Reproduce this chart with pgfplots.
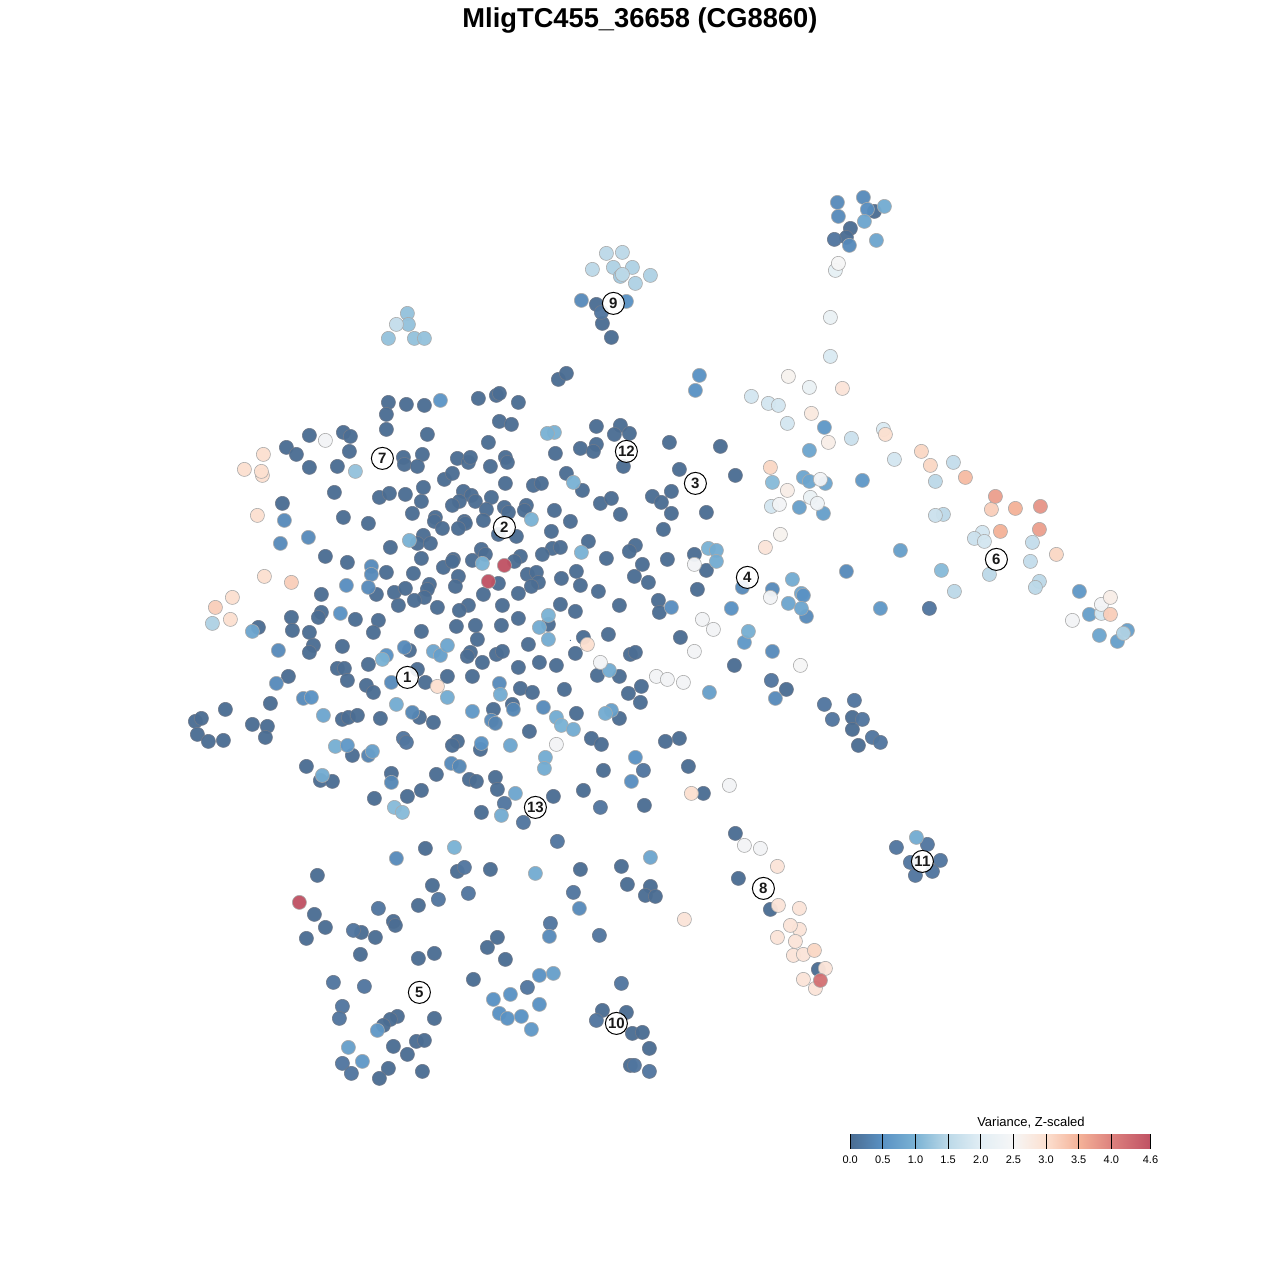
\documentclass[border=0pt]{standalone}
\usepackage{fontspec}
\setmainfont{Liberation Sans}
\usepackage{pgfplots}
\pgfplotsset{compat=1.18}
\definecolor{dA}{RGB}{75,109,147}
\definecolor{dB}{RGB}{81,118,159}
\definecolor{edgeD}{RGB}{112,122,138}
\definecolor{edgeL}{RGB}{170,170,170}
\pgfplotsset{
 colormap={rb}{rgb255(0cm)=(74,108,146); rgb255(5cm)=(90,146,196); rgb255(10cm)=(122,178,212); rgb255(15cm)=(188,217,232); rgb255(20cm)=(226,238,245); rgb255(25cm)=(246,246,246); rgb255(30cm)=(252,224,208); rgb255(35cm)=(244,178,152); rgb255(40cm)=(221,130,126); rgb255(46cm)=(192,82,100)},
 dot/.style={only marks, mark=*, mark size=7.05bp, mark options={draw=edgeD, line width=0.6bp, fill opacity=0.96, fill=#1}},
 dot/.default=dA,
}
\begin{document}
\begin{tikzpicture}
\begin{axis}[name=main, at={(0,0)}, anchor=south west, scale only axis, width=1280bp, height=1280bp,
  xmin=-0.4, xmax=1279.6, ymin=-0.4, ymax=1279.6, y dir=reverse, clip=false,
  xtick=\empty, ytick=\empty, axis line style={draw=none},
  point meta min=0, point meta max=4.6,
  title={\fontsize{27.3bp}{30bp}\selectfont\bfseries MligTC455\_36658 (CG8860)},
  title style={at={(axis description cs:0.5,0.9859)}, anchor=center, inner sep=0pt, yshift=-8.3bp},
]
\addplot[dot=dA] coordinates {
(388,402)(406,404)(424,405)(386,414)(386,429)(427,434)(309,435)(343,432)(350,436)(286,447)(296,454)(349,451)(403,457)(404,464)(422,454)(417,466)(309,467)(337,466)(444,479)(334,492)(379,497)(389,493)(405,494)(423,487)(421,501)(282,503)(412,513)(435,517)(434,521)(442,528)(343,517)(368,523)(390,547)(423,535)(417,543)(430,543)(421,558)(413,573)(443,567)(325,556)(347,562)(386,572)(376,594)(394,592)(405,588)(429,584)(427,589)(424,597)(414,600)(398,605)(437,607)(321,594)
(291,617)(321,612)(318,617)(355,619)(378,620)(292,630)(309,632)(258,627)(373,632)(421,631)(313,645)(309,652)(342,646)(368,664)(409,650)(337,668)(344,668)(288,676)(347,680)(366,685)(373,692)(417,669)(425,682)(447,676)(270,703)(419,717)(433,722)(380,718)(342,719)(348,717)(357,715)(225,709)(195,721)(201,718)(252,724)(267,726)(197,734)(208,741)(223,740)(265,737)(352,755)(436,774)(306,766)(320,780)(332,781)(391,773)(421,790)(407,796)(374,798)(425,848)
(558,379)(566,373)(478,398)(496,395)(499,393)(518,402)(499,421)(511,424)(596,426)(620,425)(629,433)(614,434)(488,442)(669,442)(720,446)(555,453)(580,448)(596,444)(593,451)(457,458)(468,462)(470,457)(505,457)(507,462)(490,466)(623,466)(679,469)(452,473)(566,473)(582,490)(533,485)(541,483)(505,483)(463,491)(471,495)(475,501)(459,501)(452,505)(491,497)(504,507)(508,512)(486,509)(526,505)(524,510)(483,520)(464,521)(465,523)(458,528)(554,510)(570,521)(600,503)(611,498)(620,514)(652,496)(661,502)(671,491)(671,513)(706,512)(663,529)(551,531)(498,534)(516,536)(588,541)(635,545)(629,551)(552,548)(560,547)(542,554)(606,558)(667,559)(694,554)(706,570)(642,564)(634,576)(648,582)(697,589)(481,549)(485,554)(472,560)(453,559)(452,561)(498,583)(520,556)(514,561)(527,574)(536,572)(538,582)(531,586)(576,571)(561,578)(580,585)(598,591)(458,576)(455,586)(483,594)(518,593)(468,605)(459,610)(502,605)(560,604)(575,611)(619,605)(658,600)(659,612)(518,618)
(456,626)(475,625)(501,625)(548,624)(477,639)(528,644)(583,637)(608,634)(680,637)(470,652)(467,656)(482,662)(496,654)(502,651)(575,653)(630,654)(635,652)(539,662)(556,665)(518,667)(597,675)(619,676)(472,676)(520,688)(532,692)(564,689)(628,693)(641,686)(640,702)(512,704)(493,709)(576,713)(619,718)(529,731)(591,738)(601,744)(665,741)(679,738)(457,741)(452,745)(480,749)(603,770)(688,766)(469,779)(476,781)(495,777)(497,789)(481,812)(553,796)(583,790)(644,805)(703,793)(735,475)
(734,665)(786,689)(852,717)(852,729)(858,745)(874,211)(850,228)(846,237)(596,304)(602,323)(611,337)(317,875)(314,914)(325,927)(306,938)(361,932)(375,937)(393,921)(395,925)(360,954)(418,905)(432,885)(457,871)(490,869)(580,869)(497,937)(487,947)(505,959)(434,953)(418,958)(473,979)(397,1016)(390,1019)(383,1025)(434,1018)(416,1041)(424,1040)(393,1046)(407,1054)(388,1068)(379,1078)(422,1071)(621,866)(627,884)(650,886)(645,895)(655,896)(735,833)(738,878)(770,909)(818,969)(602,1010)(626,1012)(632,1033)(642,1032)(649,1048)(630,1065)
};
\addplot[dot=dB] coordinates {
(601,312)(523,822)(504,803)(600,807)(643,770)(599,935)(621,983)(596,1020)(634,1065)(649,1071)(333,982)(364,986)(342,1006)(339,1018)(342,1063)(351,1073)(527,987)(378,908)(464,867)(438,899)(468,893)(557,841)(573,892)(550,923)(353,930)(771,680)(824,704)(854,700)(832,719)(862,719)(872,737)(880,742)(896,847)(910,862)(927,844)(940,860)(932,871)(915,875)(403,738)(406,742)(929,608)(834,239)
};
\addplot[dot=white, scatter, point meta=explicit, scatter/use mapped color={draw=edgeL, fill=mapped color}] coordinates {
(440,400)[.55](371,566)[.4](371,574)[.4](284,520)[.4](308,537)[.4](280,543)[.4](346,585)[.45](368,587)[.4](340,613)[.5](278,650)[.4](276,683)[.4](391,682)[.4](386,655)[.5](404,647)[.4](303,698)[.4](311,697)[.5](412,712)[.35](391,782)[.35](451,763)[.4](459,766)[.35](491,720)[.4](513,709)[.35](495,723)[.3](499,683)[.4](472,711)[.6](543,707)[.4](481,743)[.5](635,757)[.5](631,781)[.45](671,607)[.45](731,608)[.5](695,390)[.5](699,375)[.5](742,587)[.4](772,589)[.4](806,616)[.4](772,651)[.4](744,642)[.6](880,608)[.6](846,571)[.4](900,550)[.7](824,427)[.6](862,480)[.6](775,698)[.4](837,202)[.4](838,216)[.4](863,197)[.4](867,209)[.45](849,245)[.4](581,300)[.4](626,301)[.5](396,858)[.4](549,936)[.4](579,908)[.4](539,975)[.5](553,973)[.7](510,994)[.5](493,999)[.5](539,1004)[.5](499,1013)[.5](507,1018)[.5](521,1016)[.5](531,1029)[.6](377,1030)[.6](348,1047)[.7](362,1061)[.6]
(609,670)[.9](709,692)[.7](748,631)[.95](809,450)[.8](803,477)[.8](809,481)[.8](825,483)[.8](799,507)[.7](823,513)[.7](792,579)[.9](801,593)[.8](803,595)[.5](788,603)[.8](801,608)[.8](772,482)[1.1](941,570)[1.1](1079,591)[.6](1089,614)[.7](1099,635)[.8](1127,630)[.7](1117,641)[.7](884,206)[.9](864,221)[.8](876,240)[.8]
(409,540)[1](355,471)[1.2](531,519)[1](482,563)[1](554,432)[1](547,433)[1](573,482)[1](581,552)[1](708,548)[1](716,550)[.9](716,561)[.9](548,615)[1](539,627)[.9](548,639)[.9](252,631)[.8](382,659)[1](433,651)[.8](440,655)[.7](447,645)[.8](447,697)[.9](396,704)[.9](323,715)[.8](335,746)[.95](347,745)[.6](368,755)[.3](372,751)[.7](322,775)[.9](394,807)[1.1](402,812)[1.1](454,847)[1](500,694)[.9](556,717)[.9](561,725)[1](573,729)[.9](611,710)[.7](605,713)[.9](510,745)[.8](545,757)[.9](544,768)[.9](515,793)[.8](501,815)[.9](535,873)[.9](650,857)[.8](916,837)[.9]
(212,623)[1.4](407,313)[1.2](408,324)[1.2](388,338)[1.2](414,338)[1.2](424,338)[1.2](396,324)[1.6](606,253)[1.5](622,252)[1.5](592,269)[1.5](613,267)[1.4](632,267)[1.4](620,276)[1.3](622,274)[1.5](650,275)[1.4](635,283)[1.4](751,396)[1.8](768,403)[1.8](778,405)[1.8](787,423)[1.8](851,438)[1.7](883,429)[1.9](894,459)[1.8](953,462)[1.6](935,481)[1.5](771,506)[1.8](943,514)[1.5](935,515)[1.7](982,532)[1.8](974,538)[1.7](984,541)[1.8](1032,542)[1.6](1030,561)[1.6](989,574)[1.5](1039,581)[1.5](1035,587)[1.5](954,591)[1.5](1101,613)[1.8](1123,633)[1.4](830,356)[1.9](835,270)[2.1](830,317)[2.2]
(325,440)[2.4](556,744)[2.4](694,564)[2.4](600,662)[2.4](656,676)[2.4](667,679)[2.4](683,682)[2.4](702,619)[2.4](713,629)[2.4](694,651)[2.4](729,785)[2.4](744,845)[2.4](760,848)[2.4](800,665)[2.5](770,597)[2.4](788,376)[2.6](809,387)[2.2](820,479)[2.4](810,497)[2.2](817,503)[2.3](779,504)[2.4](780,534)[2.6](787,490)[2.7](1101,604)[2.4](1072,620)[2.4](838,263)[2.5]
(263,454)[3](244,469)[3](262,475)[3](261,471)[3](257,515)[3](264,576)[3](291,582)[3.2](232,597)[3](215,607)[3.2](230,619)[3](437,686)[3](587,644)[3](691,793)[3](684,919)[2.9](777,866)[2.9](778,905)[2.9](799,908)[2.9](799,929)[2.9](790,925)[2.9](777,937)[2.9](795,941)[2.9](793,955)[2.9](803,954)[2.9](814,950)[3.1](825,968)[2.9](803,979)[2.9](815,988)[2.9](842,388)[2.9](811,413)[2.8](828,442)[2.7](885,434)[3](921,451)[3.1](930,465)[3.1](770,467)[3.1](765,547)[2.9](1056,554)[3.1](1110,597)[2.7](1110,614)[3.2](991,509)[3.2]
(965,477)[3.4](995,496)[3.7](1015,508)[3.5](1040,506)[3.8](1000,531)[3.5](1039,529)[3.7](820,980)[4.2](299,902)[4.6](504,565)[4.6](488,581)[4.6]
};
\addplot[only marks, mark=*, mark size=0.4bp, color=dA] coordinates {(570,640)};
\addplot[only marks, mark=*, mark size=11bp, mark options={draw=black, line width=1bp, fill=white, fill opacity=0.9},
  point meta=explicit symbolic, nodes near coords, nodes near coords align={center},
  every node near coord/.append style={anchor=center, inner sep=0pt, text=black, font=\fontsize{15bp}{15bp}\selectfont\bfseries}]
  table[x=x, y=y, meta=lab] {
x y lab
407 677 1
504 527 2
695 483 3
747 577 4
419 992 5
996 559 6
382 458 7
763 888 8
613 303 9
616 1023 10
922 861 11
626 451 12
535 807 13
};
\end{axis}
\begin{axis}[at={(850.2bp,131bp)}, anchor=south west, scale only axis, width=300.3bp, height=15bp,
  xmin=0, xmax=4.6, ymin=0, ymax=1, view={0}{90}, axis line style={draw=none},
  xtick={0,0.5,1,1.5,2,2.5,3,3.5,4,4.6}, xticklabels={0.0,0.5,1.0,1.5,2.0,2.5,3.0,3.5,4.0,4.6},
  ytick=\empty, xtick pos=bottom, tick align=inside, major tick length=15bp,
  xtick style={draw=black, line width=0.9bp},
  xticklabel style={font=\fontsize{11bp}{12bp}\selectfont, inner sep=0pt, yshift=-7bp},
  point meta min=0, point meta max=4.6, axis on top,
  title={\fontsize{13bp}{14bp}\selectfont Variance, Z-scaled},
  title style={at={(axis description cs:0.602,1)}, anchor=south, inner sep=0pt, yshift=-0.5bp},
]
\addplot3[surf, shader=interp, mesh/rows=2, point meta=x] coordinates {
(0,0,0)(0.5,0,0)(1,0,0)(1.5,0,0)(2,0,0)(2.5,0,0)(3,0,0)(3.5,0,0)(4,0,0)(4.6,0,0)

(0,1,0)(0.5,1,0)(1,1,0)(1.5,1,0)(2,1,0)(2.5,1,0)(3,1,0)(3.5,1,0)(4,1,0)(4.6,1,0)
};
\end{axis}
\end{tikzpicture}
\end{document}
